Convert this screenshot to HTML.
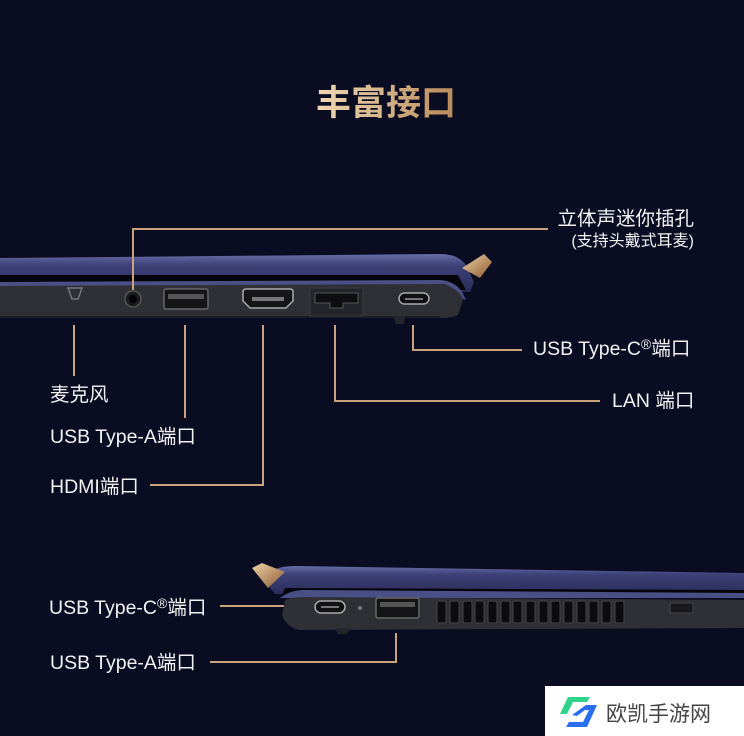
<!DOCTYPE html>
<html><head><meta charset="utf-8"><style>
body{margin:0;width:744px;height:736px;background:#0a0c22;overflow:hidden;font-family:"Liberation Sans","Noto Sans CJK SC",sans-serif}
svg{position:absolute;left:0;top:0}
.t{position:absolute;color:#f2f2f2;font-size:19.5px;white-space:nowrap;line-height:1}
sup{font-size:14px;vertical-align:6px;line-height:0}
</style></head><body>
<svg width="744" height="736" viewBox="0 0 744 736">
<defs>
<linearGradient id="g" x1="0" x2="1" y1="0" y2="1"><stop offset="0" stop-color="#f0d2a8"/><stop offset="1" stop-color="#8a5a30"/></linearGradient>
<linearGradient id="tg" x1="0" x2="1" y1="0" y2="0"><stop offset="0" stop-color="#f0d8b4"/><stop offset="1" stop-color="#b88a5a"/></linearGradient>
<linearGradient id="lid" x1="0" x2="0" y1="0" y2="1"><stop offset="0" stop-color="#6a6ea8"/><stop offset="0.3" stop-color="#3d4178"/><stop offset="1" stop-color="#2a2d5a"/></linearGradient>
</defs>
<text x="386" y="115" text-anchor="middle" font-size="35" font-weight="bold" fill="url(#tg)" font-family="Liberation Sans,Noto Sans CJK SC,sans-serif">丰富接口</text>
<path d="M0,258 L440,254 Q458,254 466,265 L474,282 L470,292 L0,280 Z" fill="url(#lid)"/>
<path d="M0,275 L458,275 L466,290 L0,284Z" fill="#05060c"/>
<path d="M0,282 L440,280 Q455,281 462,292 L466,300 L460,298 L0,287Z" fill="#4a4f86"/>
<path d="M0,286 L445,284 Q462,292 463,300 L458,315 Q452,318 440,318 L0,318Z" fill="#2f3036"/>
<path d="M0,316 L440,316 L440,318 L0,318Z" fill="#1c1d22"/>
<path d="M393,316 L405,316 L404,324 L396,324Z" fill="#25262c"/>
<polygon points="462,268 484,254 492,262 480,278" fill="url(#g)"/>
<path d="M68,288 L82,288 L78,299 L72,299Z" fill="none" stroke="#777" stroke-width="1.5"/>
<circle cx="133" cy="299" r="8" fill="#1a1a1e" stroke="#555" stroke-width="1.5"/><circle cx="133" cy="299" r="4" fill="#050505"/>
<rect x="164" y="289" width="44" height="20" rx="2" fill="#151518" stroke="#666" stroke-width="1.5"/><rect x="168" y="294" width="36" height="5" fill="#555"/>
<path d="M243,292 Q243,289 246,289 L290,289 Q293,289 293,292 L293,301 L286,308 L250,308 L243,301Z" fill="#151518" stroke="#aaa" stroke-width="1.5"/><rect x="252" y="297" width="32" height="4" fill="#777"/>
<rect x="310" y="288" width="53" height="28" fill="#24252a" stroke="#3a3a40"/><path d="M315,293 L358,293 L358,303 L343,303 L343,308 L330,308 L330,303 L315,303Z" fill="#0e0e11" stroke="#555"/>
<rect x="399" y="293" width="30" height="11" rx="5.5" fill="#101013" stroke="#aaa" stroke-width="1.5"/><rect x="405" y="298" width="18" height="2" fill="#777"/>
<g stroke="#c9a37c" stroke-width="2" fill="none">
<path d="M133,290 V229 H548"/>
<path d="M74,325 V376"/>
<path d="M185,325 V418"/>
<path d="M263,325 V485 H150"/>
<path d="M335,325 V401 H600"/>
<path d="M413,325 V350 H522"/>
<path d="M220,606 H306"/>
<path d="M396,633 V662 H210"/>
</g>
<path d="M262,578 Q272,566 295,566 L744,573 L744,592 L275,594Z" fill="url(#lid)"/>
<path d="M285,588 L744,590 L744,596 L282,595Z" fill="#05060c"/>
<path d="M280,598 Q290,590 305,590 L744,593 L744,598 L300,598Z" fill="#4a4f86"/>
<path d="M285,600 Q292,597 305,597 L744,600 L744,628 L300,630 Q287,628 282,615Z" fill="#2f3036"/>
<path d="M335,628 L350,628 L347,634 L338,634Z" fill="#25262c"/>
<polygon points="252,568 262,563 285,572 268,588" fill="url(#g)"/>
<rect x="315" y="601" width="30" height="12" rx="6" fill="#101013" stroke="#aaa" stroke-width="1.5"/><rect x="321" y="606" width="18" height="2" fill="#777"/>
<circle cx="360" cy="608" r="1.8" fill="#888"/>
<rect x="376" y="598" width="43" height="20" rx="2" fill="#151518" stroke="#666" stroke-width="1.5"/><rect x="380" y="602" width="35" height="5" fill="#555"/>
<g fill="#0c0c10" stroke="#444">
<rect x="437" y="601" width="9" height="22" rx="2"/><rect x="450" y="601" width="9" height="22" rx="2"/><rect x="463" y="601" width="9" height="22" rx="2"/><rect x="475" y="601" width="9" height="22" rx="2"/><rect x="488" y="601" width="9" height="22" rx="2"/><rect x="501" y="601" width="9" height="22" rx="2"/><rect x="513" y="601" width="9" height="22" rx="2"/><rect x="526" y="601" width="9" height="22" rx="2"/><rect x="539" y="601" width="9" height="22" rx="2"/><rect x="551" y="601" width="9" height="22" rx="2"/><rect x="564" y="601" width="9" height="22" rx="2"/><rect x="577" y="601" width="9" height="22" rx="2"/><rect x="589" y="601" width="9" height="22" rx="2"/><rect x="602" y="601" width="9" height="22" rx="2"/><rect x="615" y="601" width="9" height="22" rx="2"/>
</g>
<rect x="670" y="603" width="23" height="10" rx="2" fill="#1a1a1e" stroke="#444"/>
<rect x="545" y="686" width="199" height="50" fill="#fff"/>
<path d="M568,697 L590,697 L587,702 L573,702 L567,714 L560,714Z" fill="#2dd48a"/>
<path d="M572,715 L586,705 L597,705 L587,727 L566,727 L569,722 L583,722 L589,710 L585,710 L577,716Z" fill="#2a6ef0"/>
<text x="606" y="721" font-size="21" fill="#444" font-family="Liberation Sans,Noto Sans CJK SC,sans-serif">欧凯手游网</text>
</svg>
<div class="t" style="right:50px;top:210px">立体声迷你插孔</div>
<div class="t" style="right:50px;top:234px;font-size:16px">(支持头戴式耳麦)</div>
<div class="t" style="left:533px;top:340px">USB Type-C<sup>®</sup>端口</div>
<div class="t" style="left:612px;top:392px">LAN 端口</div>
<div class="t" style="left:50px;top:386px">麦克风</div>
<div class="t" style="left:50px;top:428px">USB Type-A端口</div>
<div class="t" style="left:50px;top:478px">HDMI端口</div>
<div class="t" style="left:49px;top:599px">USB Type-C<sup>®</sup>端口</div>
<div class="t" style="left:50px;top:654px">USB Type-A端口</div>
</body></html>
